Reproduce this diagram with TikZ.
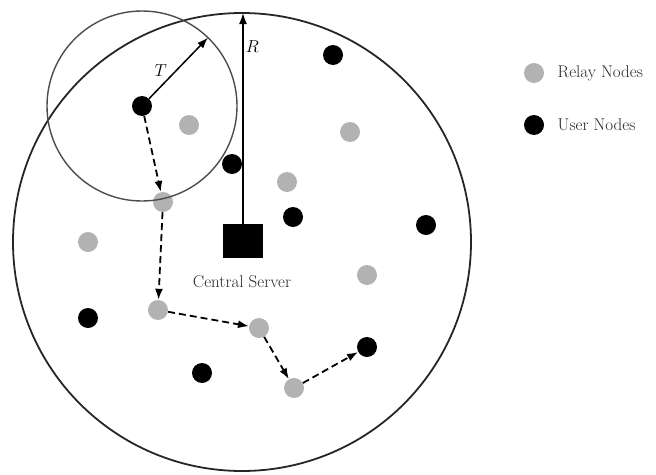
\documentclass[tikz,border=0pt]{standalone}
\usepackage{amsmath}
\usepackage{xcolor}
\usetikzlibrary{arrows.meta,positioning}

\begin{document}
\begin{tikzpicture}[x=1pt, y=-1pt]
        % 样式
        \tikzset{
            relay/.style={circle, fill=black!30, minimum size=20pt, inner sep=0pt},
            user/.style={circle, fill=black, minimum size=20pt, inner sep=0pt},
            hop/.style={-{Latex[length=11pt,width=8pt]}, dash pattern=on 7pt off 4pt, line width=1.8pt},
            reach/.style={-{Latex[length=11pt,width=8pt]}, line width=1.5pt},
            lbl/.style={font=\fontsize{17}{20}\selectfont, text=black!85}
        }
        \useasboundingbox (0,0) rectangle (656,474);

        % 覆盖区域 R
        \draw[black!85, line width=1.8pt] (242,242) circle[radius=229];
        \coordinate (top) at (243,13);

        % 中心服务器
        \node[rectangle, fill=black, minimum width=40pt, minimum height=34pt, inner sep=0pt] (server) at (243,241) {};
        \node[lbl] (serverlbl) at (242,282) {Central Server};

        % 中继节点
        \node[relay] (r1) at (189,125) {};
        \node[relay] (r2) at (163,202) {};
        \node[relay] (r3) at (158,310) {};
        \node[relay] (r4) at (259,328) {};
        \node[relay] (r5) at (294,388) {};
        \node[relay] (r6) at (88,242) {};
        \node[relay] (r7) at (350,132) {};
        \node[relay] (r8) at (287,182) {};
        \node[relay] (r9) at (367,275) {};

        % 用户节点
        \node[user] (u1) at (142,106) {};
        \node[user] (u2) at (333,55) {};
        \node[user] (u3) at (232,164) {};
        \node[user] (u4) at (293,217) {};
        \node[user] (u5) at (426,225) {};
        \node[user] (u6) at (202,373) {};
        \node[user] (u7) at (367,347) {};
        \node[user] (u8) at (88,318) {};

        % 传输范围 T
        \draw[black!70, line width=1.4pt] (u1.center) circle[radius=95];
        \coordinate (tend) at ([shift={(-46:95)}]u1.center);
        \draw[reach] (u1) -- (tend) node[lbl, text=black, pos=0.33, above left=0pt, inner sep=1pt] {$T$};
        \draw[reach] (server) -- (top) node[lbl, text=black, pos=0.84, right=0pt, inner sep=2pt] {$R$};

        % 多跳路径
        \draw[hop] (u1) -- (r2);
        \draw[hop] (r2) -- (r3);
        \draw[hop] (r3) -- (r4);
        \draw[hop] (r4) -- (r5);
        \draw[hop] (r5) -- (u7);

        % 图例
        \node[relay] (legrelay) at (534,73) {};
        \node[user] (leguser) at (534,125) {};
        \node[lbl, right=10pt of legrelay] (legrelaytxt) {Relay Nodes};
        \node[lbl, right=10pt of leguser] (legusertxt) {User Nodes};
\end{tikzpicture}
\end{document}
